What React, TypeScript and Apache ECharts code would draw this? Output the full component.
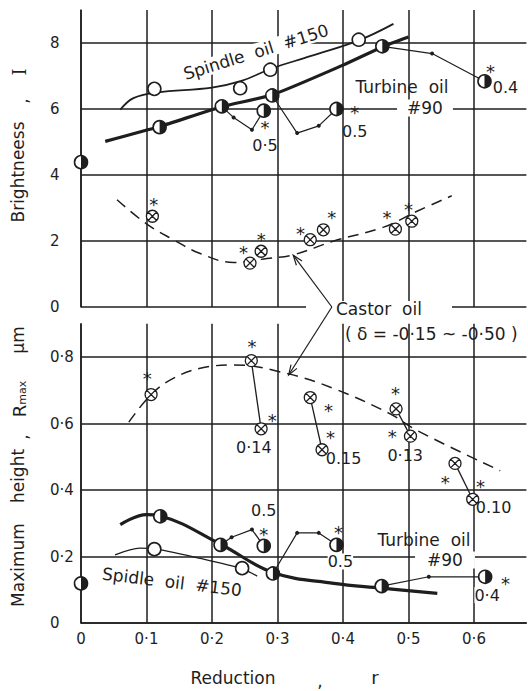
import React, { useEffect, useRef } from 'react';
import * as echarts from 'echarts';

// ---------- tick labels ----------
const xTickLabels = ['0', '0·1', '0·2', '0·3', '0·4', '0·5', '0·6'];
const brightnessTickLabels = ['0', '2', '4', '6', '8'];
const rmaxTickLabels = ['0', '0·2', '0·4', '0·6', '0·8'];

// ---------- Brightness panel (top) ----------
const spindleBrightPoints = [[0.112, 6.61], [0.243, 6.63], [0.289, 7.19], [0.424, 8.1]];
const spindleBrightCurve = [[0.06, 5.98], [0.08, 6.33], [0.115, 6.5], [0.2, 6.65], [0.245, 6.85], [0.29, 7.22], [0.35, 7.6], [0.424, 8.08], [0.477, 8.58]];
const turbineBrightStart = [[0, 4.39]];
const turbineBrightPoints = [[0.12, 5.45], [0.215, 6.08], [0.292, 6.41], [0.46, 7.9]];
const turbineBrightCurve = [[0.037, 5.02], [0.12, 5.47], [0.215, 6.07], [0.292, 6.43], [0.4, 7.33], [0.46, 7.88], [0.5, 8.18]];
const turbineBrightBranch1 = [[0.215, 6.08], [0.233, 5.74], [0.261, 5.37], [0.279, 5.95]];
const turbineBrightBranch2 = [[0.292, 6.41], [0.33, 5.27], [0.363, 5.49], [0.39, 6.0]];
const turbineBrightBranch3 = [[0.46, 7.9], [0.536, 7.68], [0.616, 6.84]];
const turbineBrightStars = [[0.281, 5.58], [0.418, 6.06], [0.625, 7.29]];
const turbineBrightNotes = [[0.281, 4.88, '0·5'], [0.418, 5.33, '0.5'], [0.648, 6.64, '0.4']];
const castorBrightPoints = [[0.109, 2.75], [0.258, 1.33], [0.275, 1.69], [0.35, 2.04], [0.37, 2.34], [0.48, 2.36], [0.505, 2.6]];
const castorBrightCurve = [[0.055, 3.25], [0.1, 2.52], [0.141, 2.04], [0.182, 1.62], [0.233, 1.35], [0.284, 1.47], [0.324, 1.58], [0.386, 2.0], [0.462, 2.42], [0.513, 2.9], [0.566, 3.37]];
const castorBrightStars = [[0.111, 3.25], [0.248, 1.79], [0.275, 2.19], [0.335, 2.39], [0.383, 2.85], [0.467, 2.85], [0.5, 3.1]];

// ---------- Maximum height panel (bottom) ----------
const castorRmaxSingle = [[0.107, 0.687]];
const castorRmaxPairs = [
  [[0.26, 0.789], [0.275, 0.584]],
  [[0.35, 0.678], [0.368, 0.521]],
  [[0.481, 0.644], [0.503, 0.562]],
  [[0.571, 0.48], [0.598, 0.372]],
];
const castorRmaxCurve = [[0.073, 0.604], [0.107, 0.687], [0.14, 0.735], [0.182, 0.766], [0.233, 0.776], [0.315, 0.75], [0.386, 0.705], [0.472, 0.629], [0.513, 0.579], [0.64, 0.458]];
const castorRmaxStars = [[0.101, 0.751], [0.261, 0.846], [0.292, 0.624], [0.378, 0.655], [0.381, 0.572], [0.48, 0.705], [0.475, 0.575], [0.556, 0.437], [0.61, 0.425]];
const castorRmaxNotes = [[0.264, 0.528, '0·14'], [0.401, 0.496, '0.15'], [0.495, 0.504, '0·13'], [0.63, 0.346, '0.10']];
const turbineRmaxStart = [[0, 0.119]];
const turbineRmaxPoints = [[0.121, 0.321], [0.213, 0.235], [0.293, 0.149], [0.459, 0.111]];
const turbineRmaxCurve = [[0.06, 0.296], [0.1, 0.326], [0.121, 0.322], [0.213, 0.237], [0.293, 0.152], [0.386, 0.119], [0.459, 0.105], [0.544, 0.089]];
const turbineRmaxBranch1 = [[0.213, 0.235], [0.23, 0.258], [0.261, 0.281], [0.279, 0.232]];
const turbineRmaxBranch2 = [[0.293, 0.149], [0.33, 0.271], [0.363, 0.271], [0.39, 0.235]];
const turbineRmaxBranch3 = [[0.459, 0.111], [0.531, 0.139], [0.617, 0.139]];
const turbineRmaxStars = [[0.279, 0.281], [0.393, 0.286], [0.648, 0.134]];
const turbineRmaxNotes = [[0.279, 0.338, '0.5'], [0.396, 0.185, '0.5'], [0.62, 0.084, '0·4']];
const spindleRmaxPoints = [[0.112, 0.222], [0.246, 0.165]];
const spindleRmaxCurve = [[0.052, 0.205], [0.09, 0.225], [0.115, 0.222], [0.18, 0.195], [0.246, 0.163], [0.269, 0.141]];

// castor-oil pointer (data coordinates of the brace vertex and arrow tips)
const castorArrowVertex = [0.383, 0];
const castorArrowTipBright = [0.324, 1.57];
const castorArrowTipRmax = [0.317, 0.746];

const INK = '#1e1e1e';
const FONT = 'DejaVu Sans';
const HALF = 'path://M0,-10 A10,10 0 0,1 0,10 Z M-10,-0.01 L-10,0.01';
const CROSS = 'path://M-10,0 A10,10 0 1,1 10,0 A10,10 0 1,1 -10,0 Z M-7,-7 L7,7 M-7,7 L7,-7';

const ax = (g: number) => ({ xAxisIndex: g, yAxisIndex: g, silent: true, animation: false });

const curve = (data: number[][], g: number, width: number, dashed = false, smooth = 0.4) => ({
  type: 'line', ...ax(g), data, smooth, symbol: 'none', z: 3,
  lineStyle: { color: INK, width, type: dashed ? [11, 7] : 'solid' },
});
const branch = (data: number[][], g: number) => ({
  type: 'line', ...ax(g), data, symbol: 'circle', symbolSize: 4, z: 4,
  itemStyle: { color: INK }, lineStyle: { color: INK, width: 1.2 },
});
const plain = (data: number[][], g: number) => ({
  type: 'line', ...ax(g), data, symbol: 'none', z: 4, lineStyle: { color: INK, width: 1.3 },
});
const openCircle = (data: number[][], g: number) => ({
  type: 'scatter', ...ax(g), data, symbol: 'circle', symbolSize: 13, z: 6,
  itemStyle: { color: '#fff', borderColor: INK, borderWidth: 1.6, opacity: 1 },
});
const halfCircle = (data: number[][], g: number) => [
  openCircle(data, g),
  { type: 'scatter', ...ax(g), data, symbol: HALF, symbolSize: 13, z: 7, itemStyle: { color: INK, opacity: 1 } },
];
const crossCircle = (data: number[][], g: number) => ({
  type: 'scatter', ...ax(g), data, symbol: CROSS, symbolSize: 12, z: 6,
  itemStyle: { color: '#fff', borderColor: INK, borderWidth: 1.3, opacity: 1 },
});

const lineStyle = { color: INK, width: 1.5 };

function buildOption(): any {
  return {
    animation: false,
    backgroundColor: '#fff',
    grid: [
      { left: 81, right: 1.6, top: 10, height: 297 },
      { left: 81, right: 1.6, top: 323.75, height: 299.25 },
    ],
    xAxis: [0, 1].map((g) => ({
      type: 'value', gridIndex: g, min: 0, max: 0.68, interval: 0.1,
      axisLine: { show: g === 1, lineStyle },
      axisTick: { show: false },
      axisLabel: {
        show: g === 1, showMaxLabel: false, margin: 8, color: INK, fontFamily: FONT, fontSize: 15,
        formatter: (v: number) => xTickLabels[Math.round(v * 10)] ?? '',
      },
      splitLine: { show: true, showMaxLine: false, lineStyle },
    })),
    yAxis: [0, 1].map((g) => ({
      type: 'value', gridIndex: g, min: 0, max: g === 0 ? 9 : 0.9, interval: g === 0 ? 2 : 0.2,
      axisLine: { show: true, onZero: false, lineStyle },
      axisTick: { show: false },
      axisLabel: {
        showMaxLabel: false, align: 'left', margin: 31, color: INK, fontFamily: FONT, fontSize: 15,
        formatter: (v: number) =>
          g === 0 ? brightnessTickLabels[Math.round(v / 2)] ?? '' : rmaxTickLabels[Math.round(v * 5)] ?? '',
      },
      splitLine: { show: true, showMaxLine: false, lineStyle },
    })),
    series: [
      // top panel
      curve(spindleBrightCurve, 0, 1.8),
      curve(turbineBrightCurve, 0, 3.2, false, 0.2),
      curve(castorBrightCurve, 0, 1.5, true),
      branch(turbineBrightBranch1, 0),
      branch(turbineBrightBranch2, 0),
      branch(turbineBrightBranch3, 0),
      openCircle(spindleBrightPoints, 0),
      ...halfCircle(turbineBrightPoints, 0),
      ...halfCircle(turbineBrightStart, 0),
      ...halfCircle([turbineBrightBranch1, turbineBrightBranch2, turbineBrightBranch3].map((b) => b[b.length - 1]), 0),
      crossCircle(castorBrightPoints, 0),
      // bottom panel
      curve(castorRmaxCurve, 1, 1.5, true),
      curve(turbineRmaxCurve, 1, 3.2),
      curve(spindleRmaxCurve, 1, 1.3, false, 0.3),
      ...castorRmaxPairs.map((p) => plain(p, 1)),
      branch(turbineRmaxBranch1, 1),
      branch(turbineRmaxBranch2, 1),
      branch(turbineRmaxBranch3, 1),
      crossCircle([...castorRmaxSingle, ...castorRmaxPairs.flat()], 1),
      openCircle(spindleRmaxPoints, 1),
      ...halfCircle(turbineRmaxPoints, 1),
      ...halfCircle(turbineRmaxStart, 1),
      ...halfCircle([turbineRmaxBranch1, turbineRmaxBranch2, turbineRmaxBranch3].map((b) => b[b.length - 1]), 1),
    ],
  };
}

const txt = (text: string, x: number, y: number, o: any = {}) => ({
  type: 'text', x, y, rotation: o.rotation ?? 0, z: 100, silent: true,
  style: {
    text, fill: INK, font: `${o.size ?? 17}px "${o.family ?? FONT}"`,
    align: o.align ?? 'center', verticalAlign: 'middle',
    backgroundColor: o.bg ? '#fff' : undefined, padding: o.pad ?? 0,
    rich: o.rich,
  },
});

const staticGraphics = () => {
  const R = Math.PI / 2;
  return [
    // y-axis titles
    txt('Brightneess', 18, 172, { rotation: R }),
    txt(',', 22, 101, { rotation: R }),
    txt('I', 19, 72, { rotation: R, family: 'DejaVu Serif', size: 18 }),
    txt('Maximum', 18, 565, { rotation: R }),
    txt('height', 18, 476, { rotation: R }),
    txt(',', 22, 437, { rotation: R }),
    txt('{r|R}{s|max}', 19, 399, {
      rotation: R,
      rich: { r: { font: `18px "${FONT}"`, fill: INK }, s: { font: `11px "${FONT}"`, fill: INK, verticalAlign: 'bottom' } },
    }),
    txt('μm', 18, 340, { rotation: R }),
    // x title
    txt('Reduction', 233, 678, { size: 17 }),
    txt(',', 320, 681, { size: 17 }),
    txt('r', 375, 677, { size: 18 }),
    // series names
    txt('Spindle  oil  #150', 256, 52, { rotation: 0.3, bg: true, pad: [0, 3] }),
    txt('Turbine  oil', 402, 87),
    txt('#90', 425, 108, { bg: true, pad: [0, 10] }),
    txt('Spidle  oil  #150', 172, 582, { rotation: -0.12 }),
    txt('Turbine  oil', 424, 540),
    txt('#90', 445, 560, { bg: true, pad: [0, 12] }),
    { type: 'rect', z: 40, silent: true, shape: { x: 306, y: 301, width: 146, height: 13 }, style: { fill: '#fff' } },
    txt('Castor  oil', 336, 309, { align: 'left' }),
    txt('( δ = -0·15 ~ -0·50 )', 345, 334, { align: 'left', size: 17 }),
  ];
};

const arrow = (from: number[], to: number[]) => {
  const dx = to[0] - from[0];
  const dy = to[1] - from[1];
  const len = Math.hypot(dx, dy) || 1;
  const ux = dx / len;
  const uy = dy / len;
  const L = 10;
  const w = 3.5;
  const bx = to[0] - ux * L;
  const by = to[1] - uy * L;
  return [
    { type: 'line', z: 60, silent: true, shape: { x1: from[0], y1: from[1], x2: to[0], y2: to[1] }, style: { stroke: INK, lineWidth: 1.2 } },
    {
      type: 'polyline', z: 60, silent: true,
      shape: { points: [[bx - uy * w, by + ux * w], to, [bx + uy * w, by - ux * w]] },
      style: { stroke: INK, lineWidth: 1.2, fill: 'none' },
    },
  ];
};

export default function App() {
  const ref = useRef<HTMLDivElement>(null);
  useEffect(() => {
    const chart = echarts.init(ref.current!, null, { renderer: 'svg' });
    chart.setOption(buildOption());
    const px = (g: number, v: number[]) => chart.convertToPixel({ gridIndex: g } as any, v) as unknown as number[];
    const marks = (g: number, arr: any[], size: number, dy: number, bg = false) =>
      arr.map((d) => {
        const p = px(g, [d[0], d[1]]);
        return txt(d.length > 2 ? d[2] : '*', p[0], p[1] + dy, { size, bg });
      });
    const vertex = px(0, castorArrowVertex);
    const tipA = px(0, castorArrowTipBright);
    const tipB = px(1, castorArrowTipRmax);
    chart.setOption({
      graphic: [
        ...staticGraphics(),
        ...arrow(vertex, tipA),
        ...arrow(vertex, tipB),
        ...marks(0, castorBrightStars, 18, 5),
        ...marks(0, turbineBrightStars, 18, 5),
        ...marks(0, turbineBrightNotes, 16, 0),
        ...marks(1, castorRmaxStars, 18, 5),
        ...marks(1, turbineRmaxStars, 18, 5),
        ...marks(1, castorRmaxNotes, 16, 0),
        ...marks(1, turbineRmaxNotes, 16, 0, true),
      ],
    });
    return () => chart.dispose();
  }, []);
  return <div ref={ref} style={{ position: 'absolute', left: 0, top: 0, width: 528, height: 691 }} />;
}
